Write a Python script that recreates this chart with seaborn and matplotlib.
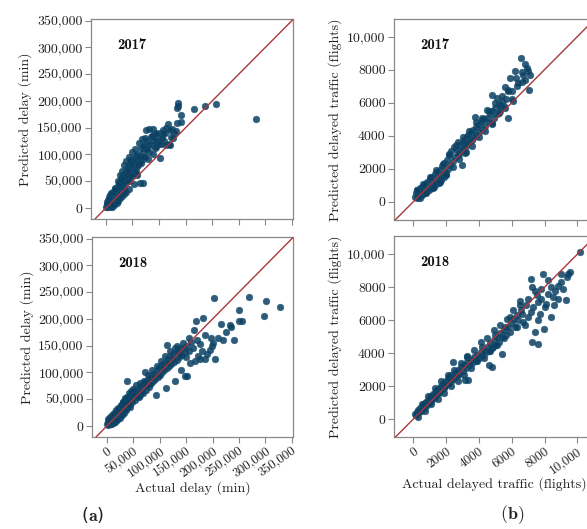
import matplotlib
matplotlib.use("Agg")
import matplotlib.pyplot as plt
import seaborn as sns
import pandas as pd

# (actual, predicted) in thousand minutes
delay_2017 = [
    (1, 2), (2, 5), (3, 1), (3, 8), (4, 4), (5, 10), (5, 2), (6, 6), (6, 13), (7, 3),
    (7, 9), (8, 15), (8, 5), (9, 11), (9, 18), (10, 7), (10, 13), (11, 21), (11, 4), (12, 10),
    (12, 16), (13, 24), (13, 8), (14, 12), (14, 19), (15, 27), (15, 10), (16, 15), (16, 22), (17, 31),
    (17, 38), (18, 18), (18, 26), (19, 34), (19, 14), (20, 21), (20, 29), (21, 38), (21, 17), (22, 24),
    (22, 50), (23, 42), (23, 19), (24, 27), (24, 36), (25, 46), (25, 22), (26, 30), (26, 40), (27, 62),
    (27, 25), (28, 34), (28, 44), (29, 55), (29, 28), (30, 70), (30, 48), (31, 60), (32, 31), (32, 42),
    (33, 52), (34, 80), (34, 35), (35, 46), (36, 57), (37, 70), (38, 88), (38, 50), (39, 62), (40, 75),
    (41, 55), (43, 36), (43, 80), (44, 96), (45, 60), (46, 72), (47, 86), (49, 66), (50, 104), (51, 92),
    (52, 44), (53, 72), (55, 110), (56, 98), (57, 64), (58, 78), (58, 62), (60, 92), (62, 122), (63, 84),
    (64, 46), (65, 98), (66, 112), (68, 128), (68, 90), (70, 47), (70, 104), (72, 118), (74, 96), (76, 146),
    (76, 110), (78, 125), (80, 92), (81, 147), (82, 104), (84, 132), (86, 118), (88, 147), (88, 100), (90, 138),
    (92, 112), (95, 114), (96, 126), (98, 130), (101, 93), (102, 140), (104, 120), (107, 139), (108, 145), (110, 125),
    (113, 118), (114, 150), (117, 157), (118, 120), (120, 117), (122, 132), (125, 148), (128, 140), (131, 144), (133, 158),
    (134, 186), (135, 191), (136, 197), (142, 173), (142, 161), (165, 184), (187, 190), (208, 195), (283, 166),
    (2, 12), (4, 15), (6, 20), (8, 24), (10, 28), (12, 2), (14, 30), (16, 5), (18, 36), (20, 10),
    (22, 14), (24, 44), (26, 18), (28, 52), (30, 22), (32, 58), (34, 26), (36, 66), (38, 30), (40, 62),
    (42, 70), (44, 50), (46, 90), (48, 60), (50, 82), (54, 90), (56, 70), (58, 100), (60, 80), (62, 95),
    (66, 85), (70, 115), (72, 95), (74, 130), (78, 110), (82, 120), (86, 135), (90, 125), (94, 140), (100, 120),
    (105, 130), (112, 140), (120, 145), (126, 130),
]

delay_2018 = [
    (1, 4), (2, 8), (3, 2), (4, 6), (5, 10), (5, 3), (6, 8), (7, 12), (7, 4), (8, 9),
    (9, 14), (9, 6), (10, 11), (11, 16), (11, 7), (12, 13), (13, 18), (13, 9), (14, 15), (15, 21),
    (15, 10), (16, 17), (17, 23), (17, 12), (18, 19), (19, 26), (19, 14), (20, 22), (21, 28), (21, 16),
    (22, 24), (23, 31), (23, 18), (24, 27), (25, 34), (25, 20), (26, 30), (27, 37), (27, 23), (28, 32),
    (29, 40), (29, 25), (30, 35), (31, 44), (31, 28), (32, 38), (33, 47), (34, 31), (35, 42), (36, 50),
    (37, 34), (38, 45), (39, 85), (40, 53), (40, 38), (42, 48), (43, 57), (44, 41), (45, 52), (47, 60),
    (48, 45), (50, 56), (52, 64), (53, 49), (55, 60), (57, 68), (58, 54), (60, 65), (62, 72), (63, 58),
    (65, 70), (67, 77), (68, 62), (70, 74), (72, 82), (73, 101), (74, 68), (76, 79), (78, 86), (80, 72),
    (82, 90), (84, 80), (86, 95), (88, 84), (90, 98), (92, 88), (93, 58), (95, 103), (97, 92), (99, 108),
    (101, 96), (103, 112), (105, 100), (107, 116), (109, 104), (111, 71), (112, 120), (114, 108), (114, 152), (116, 125),
    (118, 112), (120, 130), (122, 116), (125, 135), (127, 120), (129, 146), (129, 85), (130, 138), (132, 124), (135, 142),
    (137, 128), (140, 145), (141, 105), (143, 132), (145, 146), (147, 93), (148, 138), (152, 150), (152, 94), (155, 140),
    (158, 118), (160, 157), (164, 180), (167, 121), (169, 196), (172, 130), (177, 125), (177, 153), (182, 201), (186, 170),
    (190, 135), (195, 142), (197, 165), (198, 149), (203, 240), (205, 125), (210, 165), (233, 189), (235, 185), (250, 197),
    (250, 217), (255, 197), (268, 241), (297, 205), (301, 233), (328, 223),
    (2, 14), (4, 12), (6, 16), (8, 3), (10, 20), (12, 5), (14, 24), (16, 8), (18, 30), (20, 12),
    (22, 34), (24, 15), (26, 40), (28, 20), (30, 45), (32, 24), (34, 52), (36, 30), (38, 55), (40, 44),
    (42, 62), (44, 35), (46, 66), (48, 52), (50, 70), (54, 58), (56, 76), (60, 55), (62, 80), (66, 66),
    (70, 85), (74, 75), (78, 95), (82, 78), (86, 105), (90, 90), (94, 112), (98, 95), (102, 122), (106, 108),
    (110, 130), (116, 118), (120, 140), (126, 126), (132, 150), (138, 135), (144, 155), (150, 128), (156, 165), (162, 145),
    (170, 160), (180, 140), (185, 125), (200, 155), (215, 190), (220, 160), (225, 175), (240, 160),
]

# (actual, predicted) in flights
traffic_2017 = [
    (100, 300), (150, 550), (200, 250), (250, 700), (300, 450), (350, 350), (400, 800), (450, 550), (500, 400), (550, 900),
    (600, 650), (650, 500), (700, 1050), (750, 750), (800, 600), (850, 1200), (900, 850), (950, 700), (1000, 1350), (1050, 950),
    (1100, 800), (1150, 1500), (1200, 1100), (1250, 900), (1300, 1650), (1350, 1200), (1400, 1050), (1450, 1800), (1500, 1350), (1550, 1150),
    (1600, 1950), (1650, 1500), (1700, 1300), (1750, 2150), (1800, 1650), (1850, 1500), (1900, 2350), (1950, 1800), (2000, 1700), (2050, 2500),
    (2100, 2000), (2150, 2900), (2250, 2200), (2300, 3100), (2400, 2450), (2450, 3300), (2550, 2700), (2600, 3450), (2700, 2900), (2750, 3600),
    (2800, 2900), (2850, 3450), (2900, 3050), (2950, 2230), (3000, 3600), (3050, 3200), (3100, 3750), (3150, 2960), (3200, 3350), (3250, 3900),
    (3300, 3500), (3350, 4050), (3400, 3600), (3500, 4200), (3550, 3750), (3650, 4350), (3700, 3900), (3760, 5160), (3800, 4500), (3850, 4050),
    (3950, 4650), (4000, 4200), (4100, 4800), (4170, 4960), (4200, 4400), (4300, 5000), (4400, 4600), (4475, 5565), (4500, 5100), (4600, 4800),
    (4700, 5300), (4780, 6476), (4780, 4758), (4800, 5500), (4900, 5100), (5000, 5700), (5087, 6274), (5100, 5300), (5200, 5900), (5290, 5770),
    (5300, 5500), (5400, 6100), (5500, 5800), (5595, 6967), (5650, 6200), (5758, 6765), (5798, 5050), (5900, 7476), (6000, 6700), (6100, 6100),
    (6204, 7920), (6245, 7516), (6300, 7000), (6551, 8726), (6610, 7274), (6610, 7880), (6700, 7700), (6814, 8326), (6916, 8083), (7057, 6785),
    (7118, 7678),
    (200, 700), (400, 200), (600, 1100), (800, 500), (1000, 1500), (1200, 800), (1400, 1900), (1600, 1200), (1800, 2300), (2000, 1600),
    (2200, 2800), (2400, 2100), (2600, 3200), (2800, 2600), (3000, 3900), (3200, 3000), (3400, 4300), (3600, 3400), (3800, 4800), (4000, 3900),
    (4200, 5100), (4400, 4300), (4600, 5500), (4800, 4700), (5000, 6000), (5200, 5400), (5400, 6400), (5600, 5700), (5800, 6700), (6000, 6200),
    (6400, 7200), (6800, 7400), (7000, 7900),
]

traffic_2018 = [
    (100, 300), (150, 250), (200, 450), (250, 350), (300, 550), (350, 400), (400, 650), (450, 500), (500, 750), (550, 600),
    (600, 850), (650, 700), (700, 950), (750, 800), (800, 1050), (850, 900), (900, 1150), (950, 1000), (1000, 1250), (1050, 1100),
    (1100, 1400), (1150, 1200), (1200, 1500), (1250, 1300), (1300, 1600), (1350, 1400), (1400, 1700), (1450, 1500), (1500, 1800), (1550, 1600),
    (1600, 1900), (1650, 1700), (1700, 2000), (1750, 1800), (1800, 2100), (1850, 1900), (1900, 2200), (1950, 2000), (2000, 2300), (2050, 2100),
    (2100, 2450), (2150, 2200), (2200, 2550), (2250, 2300), (2300, 2650), (2350, 2400), (2440, 3460), (2450, 2700), (2500, 2500), (2600, 2850),
    (2650, 2600), (2750, 3000), (2800, 2750), (2900, 3150), (3000, 2900), (3100, 3300), (3153, 2347), (3200, 3100), (3253, 3763), (3300, 3450),
    (3350, 2370), (3400, 3250), (3500, 3600), (3600, 3400), (3700, 3750), (3800, 3550), (3900, 3900), (4000, 3700), (4100, 4050), (4170, 4370),
    (4200, 3850), (4300, 4200), (4400, 4000), (4500, 4400), (4600, 3300), (4600, 4150), (4700, 4600), (4780, 3175), (4800, 4300), (4882, 4370),
    (4900, 4800), (4983, 5078), (5000, 4500), (5100, 5000), (5200, 4700), (5300, 5200), (5390, 3965), (5390, 4977), (5500, 5400), (5593, 5580),
    (5650, 5100), (5800, 5600), (5898, 6188), (6000, 5800), (6100, 6100), (6203, 5580), (6300, 6300), (6400, 6000), (6507, 7142), (6570, 6637),
    (6650, 6400), (6812, 5730), (6900, 6900), (7000, 6200), (7178, 8518), (7220, 8012), (7220, 4673), (7300, 6800), (7400, 5300), (7525, 7507),
    (7585, 4572), (7626, 7102), (7700, 6400), (7800, 7300), (7931, 8822), (7992, 5480), (8100, 7000), (8236, 8457), (8400, 6188), (8500, 7385),
    (8645, 7750), (8800, 8100), (8990, 8316), (9153, 7912), (9296, 7244), (9357, 8619), (9458, 8781), (9560, 8923), (10170, 10137),
    (300, 150), (500, 900), (700, 500), (900, 1400), (1100, 900), (1300, 1900), (1500, 1200), (1700, 2300), (1900, 1600), (2100, 2700),
    (2300, 2000), (2500, 3000), (2700, 2300), (2900, 3400), (3100, 2700), (3300, 3800), (3500, 3100), (3700, 4200), (3900, 3500), (4100, 4700),
    (4300, 3700), (4500, 4900), (4700, 4100), (4900, 5400), (5100, 4500), (5300, 5700), (5500, 4900), (5700, 6100), (5900, 5300), (6100, 6600),
    (6300, 5600), (6500, 6900), (6700, 5900), (7000, 7300), (7200, 6500), (7400, 7800), (7600, 6000), (7800, 7900), (8000, 6800), (8200, 7600),
    (8400, 8000), (8600, 6900), (8800, 7300), (9000, 8800),
]

delay_ticks = [0, 50000, 100000, 150000, 200000, 250000, 300000, 350000]
delay_labels = ["0", "50,000", "100,000", "150,000", "200,000", "250,000", "300,000", "350,000"]
traffic_ticks = [0, 2000, 4000, 6000, 8000, 10000]
traffic_labels = ["0", "2000", "4000", "6000", "8000", "10,000"]

sns.set_theme(style="white")
plt.rcParams["font.family"] = ["cmr10", "DejaVu Serif"]
plt.rcParams["mathtext.fontset"] = "cm"
plt.rcParams["axes.unicode_minus"] = False

W, H = 587, 529
fig = plt.figure(figsize=(W / 100, H / 100), dpi=100)


def px_axes(x0, y0, x1, y1):
    return fig.add_axes([x0 / W, 1 - y1 / H, (x1 - x0) / W, (y1 - y0) / H])


def panel(ax, pairs, scale, lims, ticks, labels, year, ylabel, xlabel=None):
    df = pd.DataFrame(pairs, columns=["actual", "predicted"]) * scale
    sns.scatterplot(data=df, x="actual", y="predicted", ax=ax, s=24,
                    color="#0c3f62", alpha=0.85, edgecolor="#175777", linewidth=0.3)
    ax.axline((0, 0), (1, 1), color="#a8373a", lw=1.0, zorder=3)
    ax.set_xlim(lims[0])
    ax.set_ylim(lims[1])
    ax.set_xticks(ticks)
    ax.set_yticks(ticks)
    ax.set_yticklabels(labels)
    if xlabel:
        ax.set_xticklabels(labels, rotation=35, ha="right", rotation_mode="anchor", fontsize=9.5)
        ax.set_xlabel(xlabel, fontsize=10, color="#222222")
    else:
        ax.set_xticklabels([])
        ax.set_xlabel("")
    ax.set_ylabel(ylabel, fontsize=10, color="#222222")
    ax.tick_params(direction="out", length=4, width=0.8, color="#888888",
                   labelsize=10, labelcolor="#222222", pad=2)
    ax.tick_params(axis="x", bottom=True, labelsize=9.5)
    ax.tick_params(axis="y", left=True)
    for sp in ax.spines.values():
        sp.set_color("#888888")
        sp.set_linewidth(0.9)
    ax.text(0.13, 0.87, year, transform=ax.transAxes, fontsize=10.5,
            family="cmb10", va="center", ha="left", color="#111111")


delay_lims = ((-28000, 352000), (-20500, 353000))
ax1 = px_axes(91, 19, 293, 219)
panel(ax1, delay_2017, 1000, delay_lims, delay_ticks, delay_labels, "2017", "Predicted delay (min)")
ax1.yaxis.set_label_coords(-0.29, 0.5)

ax3 = px_axes(92, 237, 293, 437)
panel(ax3, delay_2018, 1000, delay_lims, delay_ticks, delay_labels, "2018", "Predicted delay (min)",
      "Actual delay (min)")
ax3.yaxis.set_label_coords(-0.29, 0.5)
ax3.xaxis.set_label_coords(0.5, -0.22)

ax2 = px_axes(394, 19, 595, 220)
panel(ax2, traffic_2017, 1, ((-1180, 11080), (-1110, 11070)), traffic_ticks, traffic_labels, "2017",
      "Predicted delayed traffic (flights)")
ax2.yaxis.set_label_coords(-0.26, 0.5)

ax4 = px_axes(394, 236, 595, 437)
panel(ax4, traffic_2018, 1, ((-1180, 11080), (-1090, 11110)), traffic_ticks, traffic_labels, "2018",
      "Predicted delayed traffic (flights)", "Actual delayed traffic (flights)")
ax4.yaxis.set_label_coords(-0.26, 0.5)
ax4.xaxis.set_label_coords(0.5, -0.2)

fig.text(93 / W, 1 - 515 / H, r"($\mathbf{a}$)", fontsize=13, ha="center", va="center", family="DejaVu Sans")
fig.text(512 / W, 1 - 515 / H, r"($\mathbf{b}$)", fontsize=13, ha="center", va="center")

fig.savefig("out.png", dpi=100)
